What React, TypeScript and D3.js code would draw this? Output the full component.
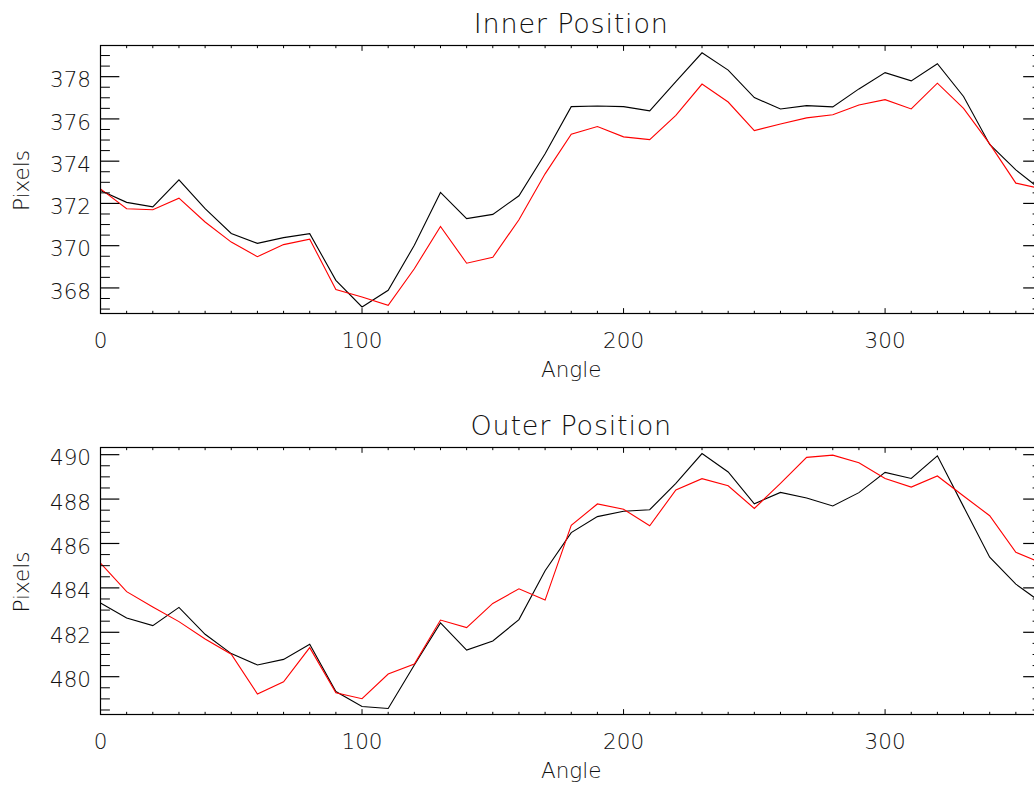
import React from "react";
import * as d3 from "d3";

const angles = [0, 10, 20, 30, 40, 50, 60, 70, 80, 90, 100, 110, 120, 130, 140, 150, 160, 170, 180, 190, 200, 210, 220, 230, 240, 250, 260, 270, 280, 290, 300, 310, 320, 330, 340, 350, 360];

const innerBlack = [372.61, 372.05, 371.84, 373.12, 371.75, 370.58, 370.11, 370.38, 370.57, 368.36, 367.10, 367.89, 370.02, 372.52, 371.28, 371.48, 372.36, 374.35, 376.58, 376.61, 376.58, 376.38, 377.76, 379.13, 378.31, 377.01, 376.47, 376.63, 376.57, 377.42, 378.19, 377.80, 378.61, 377.06, 374.79, 373.59, 372.61];
const innerRed = [372.69, 371.75, 371.70, 372.25, 371.12, 370.17, 369.48, 370.05, 370.31, 367.92, 367.57, 367.18, 368.91, 370.91, 369.17, 369.45, 371.23, 373.40, 375.28, 375.64, 375.15, 375.02, 376.17, 377.65, 376.80, 375.45, 375.76, 376.05, 376.20, 376.66, 376.91, 376.47, 377.69, 376.50, 374.82, 372.96, 372.69];

const outerBlack = [483.32, 482.64, 482.30, 483.12, 481.91, 481.04, 480.53, 480.78, 481.46, 479.33, 478.66, 478.57, 480.53, 482.42, 481.20, 481.61, 482.57, 484.77, 486.49, 487.21, 487.45, 487.52, 488.71, 490.05, 489.22, 487.79, 488.30, 488.05, 487.69, 488.29, 489.20, 488.93, 489.95, 487.66, 485.38, 484.17, 483.32];
const outerRed = [485.11, 483.83, 483.14, 482.48, 481.70, 481.01, 479.22, 479.77, 481.31, 479.28, 479.01, 480.12, 480.57, 482.55, 482.21, 483.30, 483.96, 483.45, 486.82, 487.78, 487.54, 486.80, 488.41, 488.92, 488.60, 487.58, 488.71, 489.88, 489.98, 489.64, 488.93, 488.54, 489.04, 488.14, 487.25, 485.60, 485.11];

const xMajorTicks = [0, 100, 200, 300];
const innerYTicks = [368, 370, 372, 374, 376, 378];
const outerYTicks = [480, 482, 484, 486, 488, 490];

const W = 1034;
const H = 786;
const LEFT = 100.5;
const RIGHT = 1042;
const FONT = "'DejaVu Sans', sans-serif";

type PanelProps = {
  title: string;
  top: number;
  bottom: number;
  yDomain: [number, number];
  yTicks: number[];
  black: number[];
  red: number[];
};

function Panel({ title, top, bottom, yDomain, yTicks, black, red }: PanelProps) {
  const x = d3.scaleLinear().domain([0, 360]).range([LEFT, RIGHT]);
  const y = d3.scaleLinear().domain(yDomain).range([bottom, top]);
  const plotW = RIGHT - LEFT;
  const plotH = bottom - top;
  const xMajLen = plotH * 0.02;
  const xMinLen = xMajLen / 2;
  const yMajLen = plotW * 0.02;
  const yMinLen = yMajLen / 2;

  const xMinor = angles.filter((a) => !xMajorTicks.includes(a));
  const yMinor: number[] = [];
  for (let v = Math.ceil(yDomain[0] * 2) / 2; v <= yDomain[1]; v += 0.5) {
    if (!yTicks.some((t) => Math.abs(t - v) < 1e-6)) yMinor.push(v);
  }

  const line = d3
    .line<number>()
    .x((_, i) => x(angles[i]))
    .y((d) => y(d));

  const cx = (LEFT + RIGHT) / 2;
  const cy = (top + bottom) / 2;

  return (
    <g>
      <text x={cx} y={top - 12.3} textAnchor="middle" fontSize={27} fontWeight={200} letterSpacing={0.8} fill="#111" fontFamily={FONT}>
        {title}
      </text>
      <path d={line(black) || ""} fill="none" stroke="#000" strokeWidth={1.1} />
      <path d={line(red) || ""} fill="none" stroke="#ff0000" strokeWidth={1.1} />
      <rect x={LEFT} y={top} width={plotW} height={plotH} fill="none" stroke="#000" strokeWidth={1.2} />
      {/* x ticks */}
      {xMajorTicks.map((t) => (
        <g key={"xm" + t}>
          <line x1={x(t)} x2={x(t)} y1={bottom} y2={bottom - xMajLen} stroke="#000" />
          <line x1={x(t)} x2={x(t)} y1={top} y2={top + xMajLen} stroke="#000" />
          <text x={x(t)} y={bottom + 34} textAnchor="middle" fontSize={21.5} fontWeight={200} fill="#111" fontFamily={FONT}>
            {t}
          </text>
        </g>
      ))}
      {xMinor.map((t) => (
        <g key={"xn" + t}>
          <line x1={x(t)} x2={x(t)} y1={bottom} y2={bottom - xMinLen} stroke="#000" />
          <line x1={x(t)} x2={x(t)} y1={top} y2={top + xMinLen} stroke="#000" />
        </g>
      ))}
      {/* y ticks */}
      {yTicks.map((t) => (
        <g key={"ym" + t}>
          <line x1={LEFT} x2={LEFT + yMajLen} y1={y(t)} y2={y(t)} stroke="#000" strokeWidth={1.2} />
          <line x1={RIGHT} x2={RIGHT - yMajLen} y1={y(t)} y2={y(t)} stroke="#000" strokeWidth={1.2} />
          <text x={91} y={y(t) + 10.6} textAnchor="end" fontSize={21.5} fontWeight={200} fill="#111" fontFamily={FONT}>
            {t}
          </text>
        </g>
      ))}
      {yMinor.map((t) => (
        <g key={"yn" + t}>
          <line x1={LEFT} x2={LEFT + yMinLen} y1={y(t)} y2={y(t)} stroke="#000" />
          <line x1={RIGHT} x2={RIGHT - yMinLen} y1={y(t)} y2={y(t)} stroke="#000" />
        </g>
      ))}
      <text x={cx} y={bottom + 63.2} textAnchor="middle" fontSize={21.5} fontWeight={200} fill="#111" fontFamily={FONT}>
        Angle
      </text>
      <text transform={`translate(29,${cy + 1}) rotate(-90)`} textAnchor="middle" fontSize={21.5} fontWeight={200} fill="#111" fontFamily={FONT}>
        Pixels
      </text>
    </g>
  );
}

export default function App() {
  return (
    <svg width={W} height={H} style={{ position: "absolute", left: 0, top: 0, background: "#fff" }}>
      <rect x={0} y={0} width={W} height={H} fill="#fff" />
      <Panel title="Inner Position" top={45.5} bottom={313.5} yDomain={[366.79, 379.475]} yTicks={innerYTicks} black={innerBlack} red={innerRed} />
      <Panel title="Outer Position" top={447.5} bottom={714.5} yDomain={[478.297, 490.323]} yTicks={outerYTicks} black={outerBlack} red={outerRed} />
    </svg>
  );
}
